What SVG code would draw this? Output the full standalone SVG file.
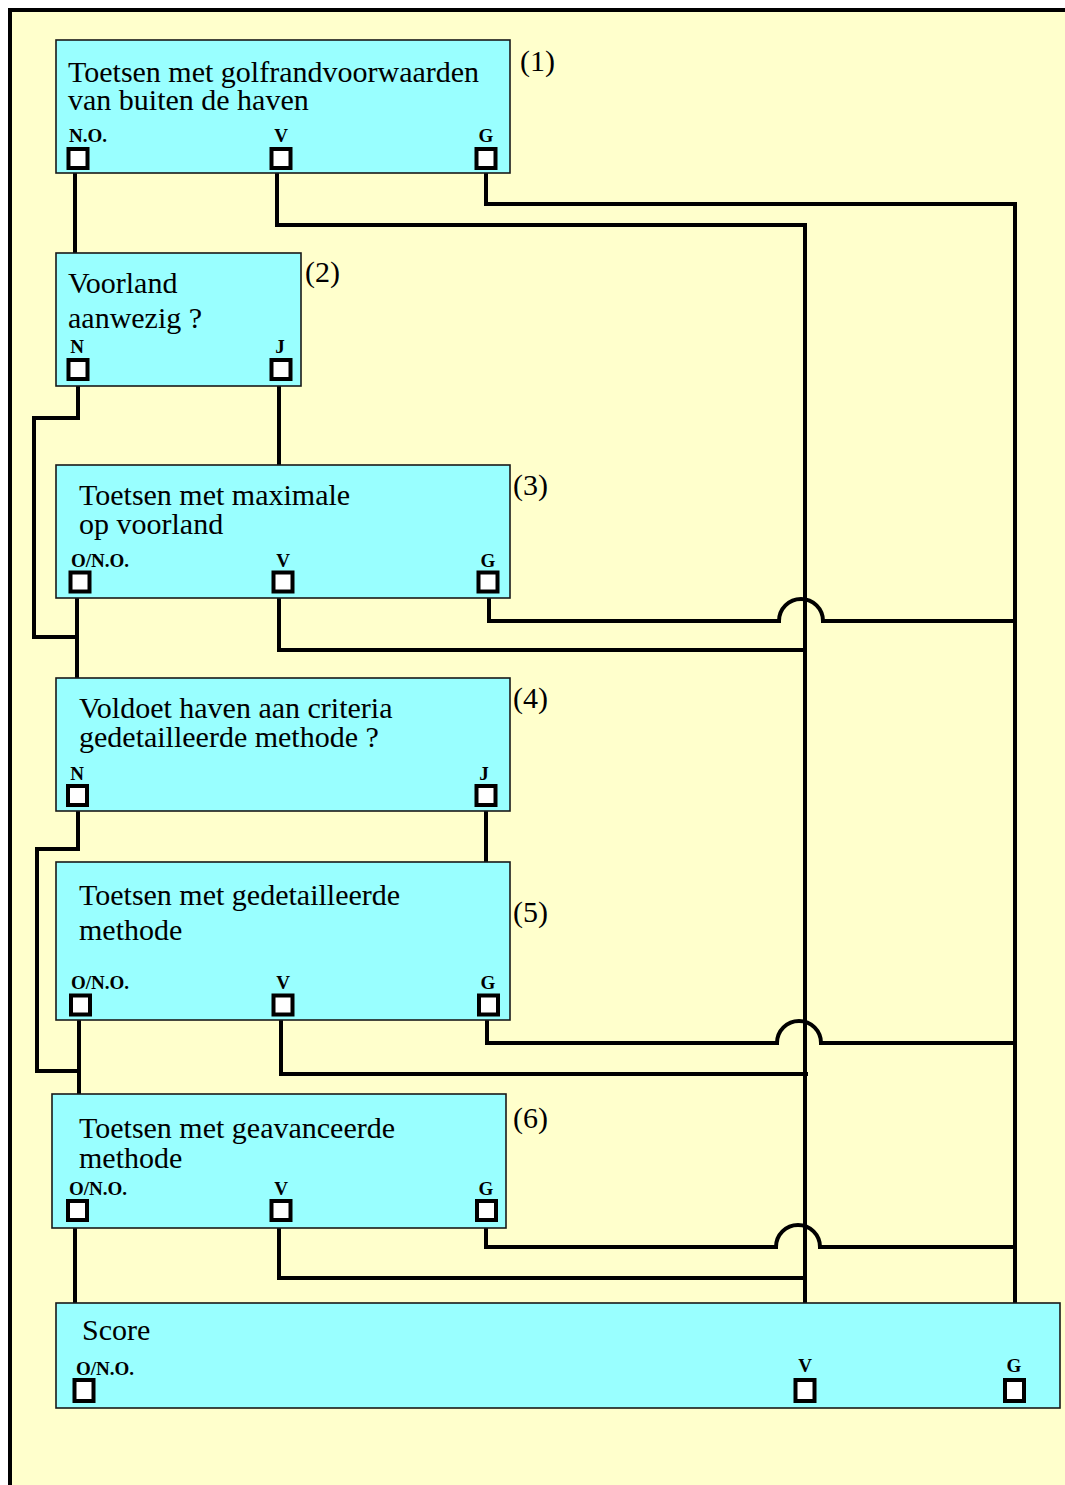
<svg xmlns="http://www.w3.org/2000/svg" width="1065" height="1485" viewBox="0 0 1065 1485">
<style>
.bg{fill:#FFFFCC;stroke:#000;stroke-width:4}
.box{fill:#99FFFF;stroke:#1a1a1a;stroke-width:1.6}
.port{fill:#fff;stroke:#000;stroke-width:4}
.t{font-family:"Liberation Serif","Times New Roman",serif;font-size:30px;fill:#000}
.n{font-family:"Liberation Serif","Times New Roman",serif;font-size:30px;fill:#000}
.l{font-family:"Liberation Serif","Times New Roman",serif;font-size:19px;font-weight:bold;fill:#000}
.m{text-anchor:middle}
.c{fill:none;stroke:#000;stroke-width:4;stroke-linejoin:miter}
</style>
<rect x="0" y="0" width="1065" height="1485" fill="#fff"/>
<rect class="bg" x="10" y="10" width="1100" height="1500"/>
<g id="connectors">
<path class="c" d="M75 170V253"/>
<path class="c" d="M277 170V225H807"/>
<path class="c" d="M486 170V204H1017"/>
<path class="c" d="M805 223V1303"/>
<path class="c" d="M1015 202V1303"/>
<path class="c" d="M78 382V418H34V637H79"/>
<path class="c" d="M279 382V465"/>
<path class="c" d="M77 594V678"/>
<path class="c" d="M279 594V650H805"/>
<path class="c" d="M489 594V621H779A22 22 0 0 1 823 621H1015"/>
<path class="c" d="M78 807V849H37V1071H81"/>
<path class="c" d="M486 807V862"/>
<path class="c" d="M79 1017V1094"/>
<path class="c" d="M281 1017V1074H808"/>
<path class="c" d="M487 1017V1043H777A22 22 0 0 1 821 1043H1015"/>
<path class="c" d="M75 1223V1303"/>
<path class="c" d="M279 1223V1278H805"/>
<path class="c" d="M486 1223V1247H776A22 22 0 0 1 820 1247H1015"/>
</g>
<g id="node1">
<rect class="box" x="56" y="40" width="454" height="133"/>
<text class="t" x="68" y="82">Toetsen met golfrandvoorwaarden</text>
<text class="t" x="68" y="110">van buiten de haven</text>
<text class="l" x="69" y="142">N.O.</text>
<text class="l m" x="281" y="142">V</text>
<text class="l m" x="486" y="142">G</text>
<rect class="port" x="68.5" y="149" width="19" height="19"/>
<rect class="port" x="271.5" y="149" width="19" height="19"/>
<rect class="port" x="476.5" y="149" width="19" height="19"/>
<text class="n" x="520" y="71">(1)</text>
</g>
<g id="node2">
<rect class="box" x="56" y="253" width="245" height="133"/>
<text class="t" x="68" y="293">Voorland</text>
<text class="t" x="68" y="328">aanwezig ?</text>
<text class="l m" x="77" y="353">N</text>
<text class="l m" x="280" y="353">J</text>
<rect class="port" x="68.5" y="360" width="19" height="19"/>
<rect class="port" x="271.5" y="360" width="19" height="19"/>
<text class="n" x="305" y="282">(2)</text>
</g>
<g id="node3">
<rect class="box" x="56" y="465" width="454" height="133"/>
<text class="t" x="79" y="505">Toetsen met maximale</text>
<text class="t" x="79" y="534">op voorland</text>
<text class="l" x="71" y="567">O/N.O.</text>
<text class="l m" x="283" y="567">V</text>
<text class="l m" x="488" y="567">G</text>
<rect class="port" x="70.5" y="572.5" width="19" height="19"/>
<rect class="port" x="273.5" y="572.5" width="19" height="19"/>
<rect class="port" x="478.5" y="572.5" width="19" height="19"/>
<text class="n" x="513" y="495">(3)</text>
</g>
<g id="node4">
<rect class="box" x="56" y="678" width="454" height="133"/>
<text class="t" x="79" y="718">Voldoet haven aan criteria</text>
<text class="t" x="79" y="747">gedetailleerde methode ?</text>
<text class="l m" x="77" y="780">N</text>
<text class="l m" x="484" y="780">J</text>
<rect class="port" x="68" y="786" width="19" height="19"/>
<rect class="port" x="476.5" y="786" width="19" height="19"/>
<text class="n" x="513" y="708">(4)</text>
</g>
<g id="node5">
<rect class="box" x="56" y="862" width="454" height="158"/>
<text class="t" x="79" y="905">Toetsen met gedetailleerde</text>
<text class="t" x="79" y="940">methode</text>
<text class="l" x="71" y="989">O/N.O.</text>
<text class="l m" x="283" y="989">V</text>
<text class="l m" x="488" y="989">G</text>
<rect class="port" x="71" y="995.5" width="19" height="19"/>
<rect class="port" x="273.5" y="995.5" width="19" height="19"/>
<rect class="port" x="479" y="995.5" width="19" height="19"/>
<text class="n" x="513" y="922">(5)</text>
</g>
<g id="node6">
<rect class="box" x="52" y="1094" width="454" height="134"/>
<text class="t" x="79" y="1138">Toetsen met geavanceerde</text>
<text class="t" x="79" y="1168">methode</text>
<text class="l" x="69" y="1195">O/N.O.</text>
<text class="l m" x="281" y="1195">V</text>
<text class="l m" x="486" y="1195">G</text>
<rect class="port" x="68" y="1201" width="19" height="19"/>
<rect class="port" x="271.5" y="1201" width="19" height="19"/>
<rect class="port" x="477" y="1201" width="19" height="19"/>
<text class="n" x="513" y="1128">(6)</text>
</g>
<g id="score">
<rect class="box" x="56" y="1303" width="1004" height="105"/>
<text class="t" x="82" y="1340">Score</text>
<text class="l" x="76" y="1375">O/N.O.</text>
<text class="l m" x="805" y="1372">V</text>
<text class="l m" x="1014" y="1372">G</text>
<rect class="port" x="74.5" y="1380" width="19" height="21"/>
<rect class="port" x="795.5" y="1380" width="19" height="21"/>
<rect class="port" x="1005" y="1380" width="19" height="21"/>
</g>
</svg>
